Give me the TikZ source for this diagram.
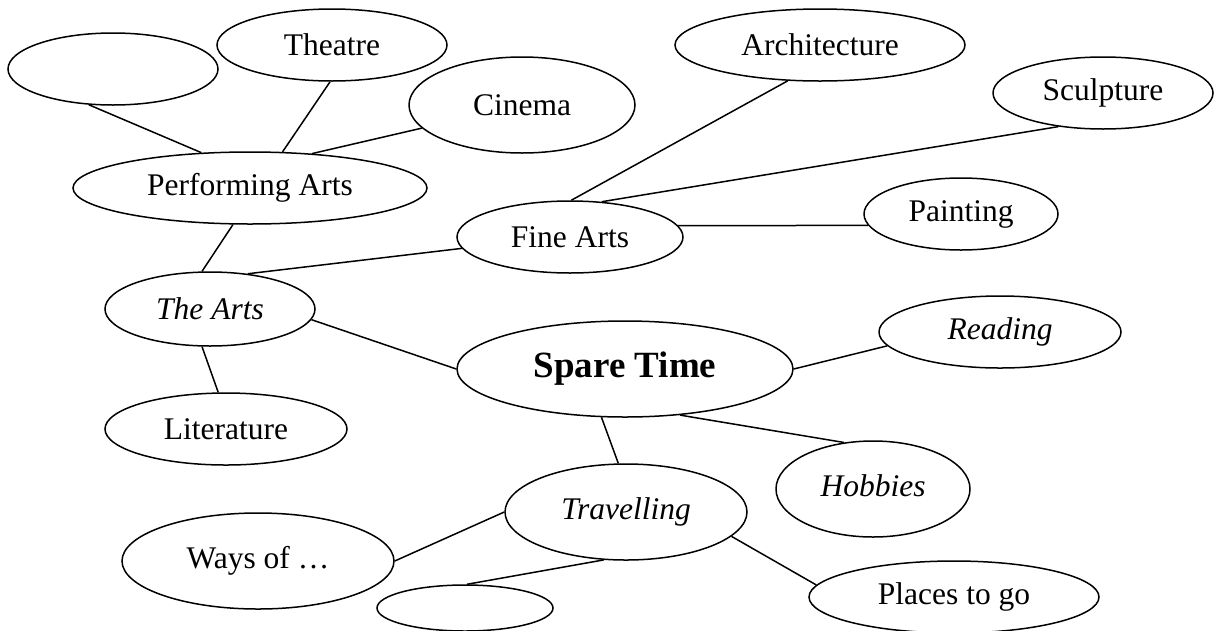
\documentclass[tikz,border=0pt]{standalone}
\usepackage{fontspec}
\setmainfont{Liberation Serif}
\usetikzlibrary{shapes.geometric}
\tikzset{
  topic/.style n args={2}{ellipse, draw, line width=1.5pt, inner sep=0pt,
    minimum width=#1pt, minimum height=#2pt,
    font=\fontsize{31.5}{36}\selectfont},
  link/.style={line width=1.5pt},
}
\begin{document}
\begin{tikzpicture}[x=1pt,y=-1pt]
\useasboundingbox (0,0) rectangle (1215,630);

% the central topic
\node[topic={336}{96}, font=\fontsize{37}{42}\selectfont\bfseries] (spare) at (625,369) {Spare Time};

% the arts branch
\node[topic={210}{74}, font=\fontsize{31.5}{36}\selectfont\itshape] (arts) at (210,309) {The Arts};
\node[topic={354}{72}] (perf) at (250,188) {Performing Arts};
\node[topic={210}{72}] (blankA) at (113,69) {};
\node[topic={230}{72}] (theatre) at (332,45) {Theatre};
\node[topic={226}{96}] (cinema) at (522,105) {Cinema};
\node[topic={226}{72}] (fine) at (570,237) {Fine Arts};
\node[topic={290}{72}] (arch) at (820,45) {Architecture};
\node[topic={220}{72}] (sculpt) at (1103,93) {Sculpture};
\node[topic={194}{72}] (paint) at (961,214) {Painting};
\node[topic={242}{72}] (lit) at (226,429) {Literature};

% other pastimes
\node[topic={242}{72}, font=\fontsize{31.5}{36}\selectfont\itshape] (read) at (1000,332) {\raisebox{-3pt}{Reading}};
\node[topic={194}{96}, font=\fontsize{31.5}{36}\selectfont\itshape] (hob) at (873,489) {\raisebox{7pt}{Hobbies}};
\node[topic={242}{96}, font=\fontsize{31.5}{36}\selectfont\itshape] (trav) at (626,512) {Travelling};
\node[topic={272}{96}] (ways) at (258,561) {\raisebox{4pt}{Ways of …}};
\node[topic={290}{72}] (places) at (954,597) {Places to go};
\node[topic={176}{46}] (blankB) at (465,608) {};

% connectors
\draw[link] (blankA.236) -- (perf.144);
\draw[link] (theatre.267) -- (perf.48);
\draw[link] (cinema.193) -- (perf.29);
\draw[link] (perf.245) -- (arts.102);
\draw[link] (arts.43) -- (fine.186);
\draw[link] (fine.88) -- (arch.228);
\draw[link] (fine.48) -- (sculpt.217);
\draw[link] (fine.6) -- (paint.187);
\draw[link] (arts.354) -- (spare.180);
\draw[link] (arts.258) -- (lit.102);
\draw[link] (spare.0) -- (read.187);
\draw[link] (spare.320) -- (hob.122);
\draw[link] (spare.244) -- (trav.99);
\draw[link] (trav.180) -- (ways.0);
\draw[link] (trav.245) -- (blankB.85);
\draw[link] (trav.347) -- (places.175);
\end{tikzpicture}
\end{document}
